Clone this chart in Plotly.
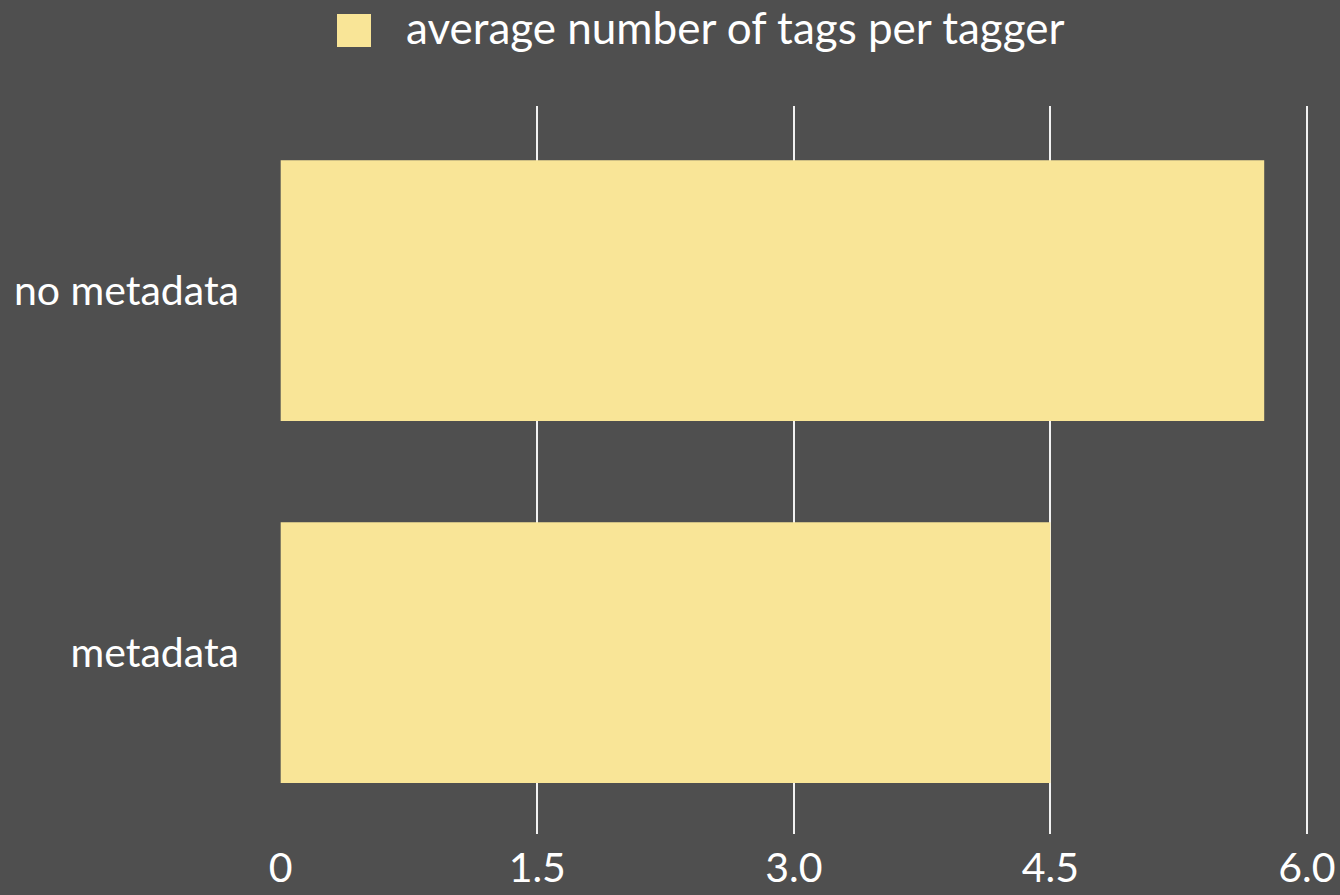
import plotly.graph_objects as go

categories = ["metadata", "no metadata"]
values = [4.5, 5.75]
series_name = "average number of tags per tagger"
tick_vals = [0, 1.5, 3.0, 4.5, 6.0]
tick_text = ["0", "1.5", "3.0", "4.5", "6.0"]

BG = "#4f4f4f"
BAR = "#f9e597"
FONT = "Lato"

fig = go.Figure()
fig.add_trace(go.Bar(
    x=values, y=categories, orientation="h",
    width=0.72,
    marker=dict(color=BAR, line=dict(width=0)),
    name=series_name, showlegend=False,
))

# legend swatch + label drawn in paper space
fig.add_shape(type="rect", xref="paper", yref="paper",
              x0=(337 - 280) / 1028, x1=(371 - 280) / 1028,
              y0=1 + (106 - 47) / 728, y1=1 + (106 - 14) / 728,
              fillcolor=BAR, line=dict(width=0))
fig.add_annotation(text=series_name, xref="paper", yref="paper",
                   x=(404 - 280) / 1028, y=1 + (106 - 27) / 728,
                   xanchor="left", yanchor="middle", showarrow=False,
                   font=dict(family=FONT, size=44, color="white"))

fig.update_layout(
    width=1340, height=895,
    margin=dict(l=280, r=32, t=106, b=61, autoexpand=False),
    paper_bgcolor=BG, plot_bgcolor=BG,
    font=dict(family=FONT, color="white", size=41),
)
fig.update_xaxes(range=[-0.004, 6.006], tickvals=tick_vals, ticktext=tick_text,
                 showgrid=True, gridcolor="#f2f2f2", gridwidth=1.5,
                 zeroline=False, showline=False, ticks="", automargin=False,
                 ticklabelstandoff=6,
                 tickfont=dict(size=41, family=FONT, color="white"))
fig.update_yaxes(range=[-0.501, 1.51], showgrid=False, zeroline=False,
                 showline=False, ticks="", ticklabelstandoff=40, automargin=False,
                 tickfont=dict(size=41, family=FONT, color="white"))

fig.write_html("out.html")
